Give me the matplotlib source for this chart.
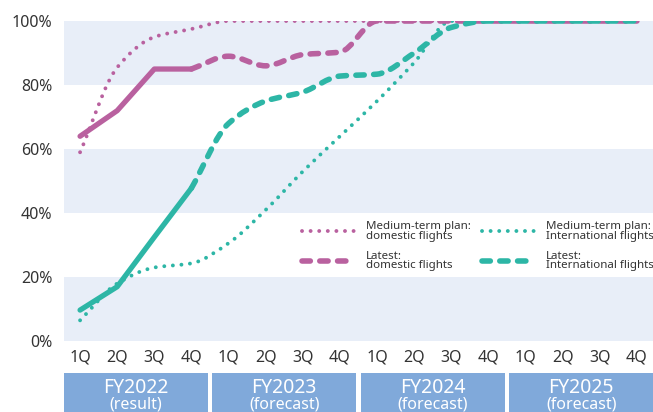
import numpy as np
import matplotlib
matplotlib.use("Agg")
import matplotlib.pyplot as plt
from matplotlib.path import Path
from matplotlib.patches import PathPatch, Rectangle
from matplotlib.lines import Line2D
import matplotlib.transforms as mtransforms

plt.rcParams['font.family'] = ['Noto Sans', 'DejaVu Sans']

# data
quarters = ['1Q', '2Q', '3Q', '4Q'] * 4
years = ['FY2022', 'FY2023', 'FY2024', 'FY2025']
year_notes = ['(result)', '(forecast)', '(forecast)', '(forecast)']

plan_domestic = [59, 85.5, 95, 97.5, 100, 100, 100, 100, 100, 100, 100, 100, 100, 100, 100, 100]
plan_international = [6.5, 18, 23, 24.3, 30.6, 41, 53, 64, 75, 87, 100, 100, 100, 100, 100, 100]
result_domestic = [64, 72, 85, 85]
latest_domestic = [85, 89, 86, 89.5, 90.3, 100, 100, 100, 100, 100, 100, 100, 100]
result_international = [9.7, 17, 32.5, 47.8]
latest_international = [47.8, 68, 75, 77.8, 82.8, 83.4, 90, 98, 100, 100, 100, 100, 100]

MAG = '#b9619f'
TEAL = '#2db6a6'
BAND = '#e8eef8'
BOX = '#80a9da'


def smooth_path(x0, ys):
    # monotone cubic (Fritsch-Carlson) as bezier segments
    ys = np.asarray(ys, dtype=float)
    d = np.diff(ys)
    m = np.zeros_like(ys)
    m[0], m[-1] = d[0], d[-1]
    for k in range(1, len(ys) - 1):
        if d[k - 1] * d[k] <= 0:
            m[k] = 0
        else:
            m[k] = 2 * d[k - 1] * d[k] / (d[k - 1] + d[k])
    verts = [(x0, ys[0])]
    codes = [Path.MOVETO]
    for k in range(len(ys) - 1):
        x = x0 + k
        verts += [(x + 1 / 3, ys[k] + m[k] / 3),
                  (x + 2 / 3, ys[k + 1] - m[k + 1] / 3),
                  (x + 1, ys[k + 1])]
        codes += [Path.CURVE4] * 3
    return Path(verts, codes)


def add_curve(ax, x0, ys, color, lw, dashes, z):
    p = PathPatch(smooth_path(x0, ys), fill=False, edgecolor=color, lw=lw,
                  linestyle=(0, dashes), capstyle='round', joinstyle='round',
                  zorder=z)
    ax.add_patch(p)


fig = plt.figure(figsize=(6.53, 4.12), dpi=100)
ax = fig.add_axes([0.098, 0.172, 0.902, 0.777])

for lo in (0, 40, 80):
    ax.axhspan(lo, lo + 20, color=BAND, lw=0, zorder=0)

DOT = (0.01, 2.2)
DASH = (1.5, 1.7)
DOT_LW = 2.8
DASH_LW = 4.0

add_curve(ax, 0, plan_domestic, MAG, DOT_LW, DOT, 2)
add_curve(ax, 0, plan_international, TEAL, DOT_LW, DOT, 2)
add_curve(ax, 3, latest_domestic, MAG, DASH_LW, DASH, 3)
add_curve(ax, 3, latest_international, TEAL, DASH_LW, DASH, 4)
ax.plot(range(4), result_domestic, color=MAG, lw=3.8, solid_capstyle='round', zorder=3)
ax.plot(range(4), result_international, color=TEAL, lw=3.8, solid_capstyle='round', zorder=4)

ax.set_xlim(-0.433, 15.433)
ax.set_ylim(0, 100)
ax.set_yticks([0, 20, 40, 60, 80, 100])
ax.set_yticklabels([f'{v}%' for v in range(0, 101, 20)])
ax.set_xticks(range(16))
ax.set_xticklabels(quarters)
ax.tick_params(axis='both', length=0, labelsize=11.5, colors='#333333')
ax.tick_params(axis='y', pad=8.5)
ax.tick_params(axis='x', pad=6)
for s in ax.spines.values():
    s.set_visible(False)

# year boxes under the axis
trans = mtransforms.blended_transform_factory(ax.transData, ax.transAxes)
for i, (yr, note) in enumerate(zip(years, year_notes)):
    left = i * 4 - 0.5 + 0.067
    ax.add_patch(Rectangle((left, -0.26), 4 - 0.134, 0.16, transform=trans,
                           facecolor=BOX, edgecolor='none', clip_on=False))
    cx = i * 4 + 1.5
    ax.text(cx, -0.146, yr, transform=trans, ha='center', va='center',
            color='white', fontsize=14)
    ax.text(cx, -0.198, note, transform=trans, ha='center', va='center',
            color='white', fontsize=11.5)

handles = [
    Line2D([], [], color=MAG, lw=DOT_LW, linestyle=(0, DOT), dash_capstyle='round'),
    Line2D([], [], color=MAG, lw=DASH_LW, linestyle=(0, DASH), dash_capstyle='round'),
    Line2D([], [], color=TEAL, lw=DOT_LW, linestyle=(0, DOT), dash_capstyle='round'),
    Line2D([], [], color=TEAL, lw=DASH_LW, linestyle=(0, DASH), dash_capstyle='round'),
]
labels = ['Medium-term plan:\ndomestic flights', 'Latest:\ndomestic flights',
          'Medium-term plan:\nInternational flights', 'Latest:\nInternational flights']
leg = ax.legend(handles, labels, ncol=2, loc='upper left', bbox_to_anchor=(0.404, 0.375),
                frameon=False, fontsize=8.3, handlelength=4.5, handletextpad=1.05,
                columnspacing=1.0, labelspacing=0.75, borderpad=0, borderaxespad=0)
for t in leg.get_texts():
    t.set_linespacing(0.85)
    t.set_color('#333333')

fig.savefig('out.png', dpi=100)
